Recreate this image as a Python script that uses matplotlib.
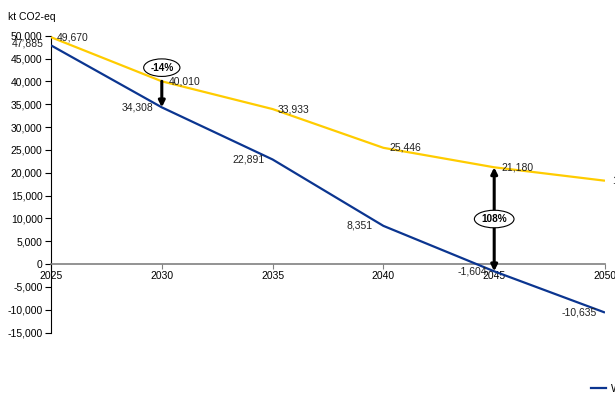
import matplotlib
matplotlib.use("Agg")
import matplotlib.pyplot as plt
from matplotlib.lines import Line2D
from matplotlib.ticker import FuncFormatter

years = [2025, 2030, 2035, 2040, 2045, 2050]
series_high = [49670, 40010, 33933, 25446, 21180, 18240]   # yellow
series_low = [47885, 34308, 22891, 8351, -1604, -10635]    # blue
yticks = list(range(-15000, 50001, 5000))
xticks = [2025, 2030, 2035, 2040, 2045, 2050]
legend_labels = ["WAM", "WEM"]
unit_label = "kt CO2-eq"
pct_labels = ["-14%", "108%"]

YELLOW = "#FFCC00"
BLUE = "#0B3590"

plt.rcParams['font.family'] = ['Liberation Sans', 'DejaVu Sans']
FS = 7.5

fig = plt.figure(figsize=(6.15, 3.94), dpi=100)
ax = fig.add_axes([51/615, (394-332.5)/394, 554/615, (332.5-35.7)/394])

ax.plot(years, series_high, color=YELLOW, lw=1.6, solid_capstyle='butt', zorder=3)
ax.plot(years, series_low, color=BLUE, lw=1.6, solid_capstyle='butt', zorder=3)

ax.set_xlim(2025, 2050)
ax.set_ylim(-15000, 50000)
ax.set_yticks(yticks)
ax.set_xticks(xticks)
ax.yaxis.set_major_formatter(FuncFormatter(lambda v, p: f"{int(v):,}"))
ax.xaxis.set_major_formatter(FuncFormatter(lambda v, p: f"{int(v)}"))

for s in ['top', 'right']:
    ax.spines[s].set_visible(False)
ax.spines['bottom'].set_position(('data', 0))
ax.spines['bottom'].set_color('#808080')
ax.spines['bottom'].set_linewidth(1.2)
ax.spines['left'].set_color('black')
ax.spines['left'].set_linewidth(0.8)
ax.tick_params(axis='y', direction='out', length=4, width=0.8, pad=2, labelsize=FS, colors='black')
ax.tick_params(axis='x', direction='out', length=3.5, width=0.8, pad=1.5, labelsize=FS, color='#808080', labelcolor='black')

# data labels
hi_offsets = [(4, 0), (5, 0), (4, 0), (4, 0), (5, 0), (5, 0)]
lo_offsets = [(-5, 1), (-6, 0), (-6, 0), (-8, 0), (-5, 0), (-6, 0)]
for x, y, off in zip(years, series_high, hi_offsets):
    ax.annotate(f"{y:,}", (x, y), xytext=off, textcoords='offset points',
                ha='left', va='center', fontsize=FS, color='#222222', annotation_clip=False)
for x, y, off in zip(years, series_low, lo_offsets):
    ax.annotate(f"{y:,}", (x, y), xytext=off, textcoords='offset points',
                ha='right', va='center', fontsize=FS, color='#222222', annotation_clip=False)

# arrows
ax.annotate("", xy=(years[1], series_low[1]), xytext=(years[1], series_high[1]),
            arrowprops=dict(arrowstyle='-|>', color='black', lw=2.2, mutation_scale=9,
                            shrinkA=0, shrinkB=0), zorder=5)
ax.annotate("", xy=(years[4], series_low[4]), xytext=(years[4], series_high[4]),
            arrowprops=dict(arrowstyle='<|-|>', color='black', lw=2.2, mutation_scale=9,
                            shrinkA=0, shrinkB=0), zorder=5)

ebox = dict(boxstyle='ellipse,pad=0.12', fc='white', ec='black', lw=0.8)
ax.text(years[1], 43000, pct_labels[0], ha='center', va='center', fontsize=FS-0.3,
        fontweight='bold', bbox=ebox, zorder=6)
ax.text(years[4], 9850, pct_labels[1], ha='center', va='center', fontsize=FS-0.3,
        fontweight='bold', bbox=ebox, zorder=6)

fig.text(8/615, 1-16.5/394, unit_label, fontsize=FS, ha='left', va='center')

handles = [Line2D([], [], color=BLUE, lw=1.6), Line2D([], [], color=YELLOW, lw=1.6)]
fig.legend(handles, legend_labels, loc='center left', bbox_to_anchor=(591/615, 1-389/394),
           ncol=2, frameon=False, fontsize=FS, handlelength=1.4, handletextpad=0.5,
           borderaxespad=0, borderpad=0)

fig.savefig("out.png", dpi=100)
